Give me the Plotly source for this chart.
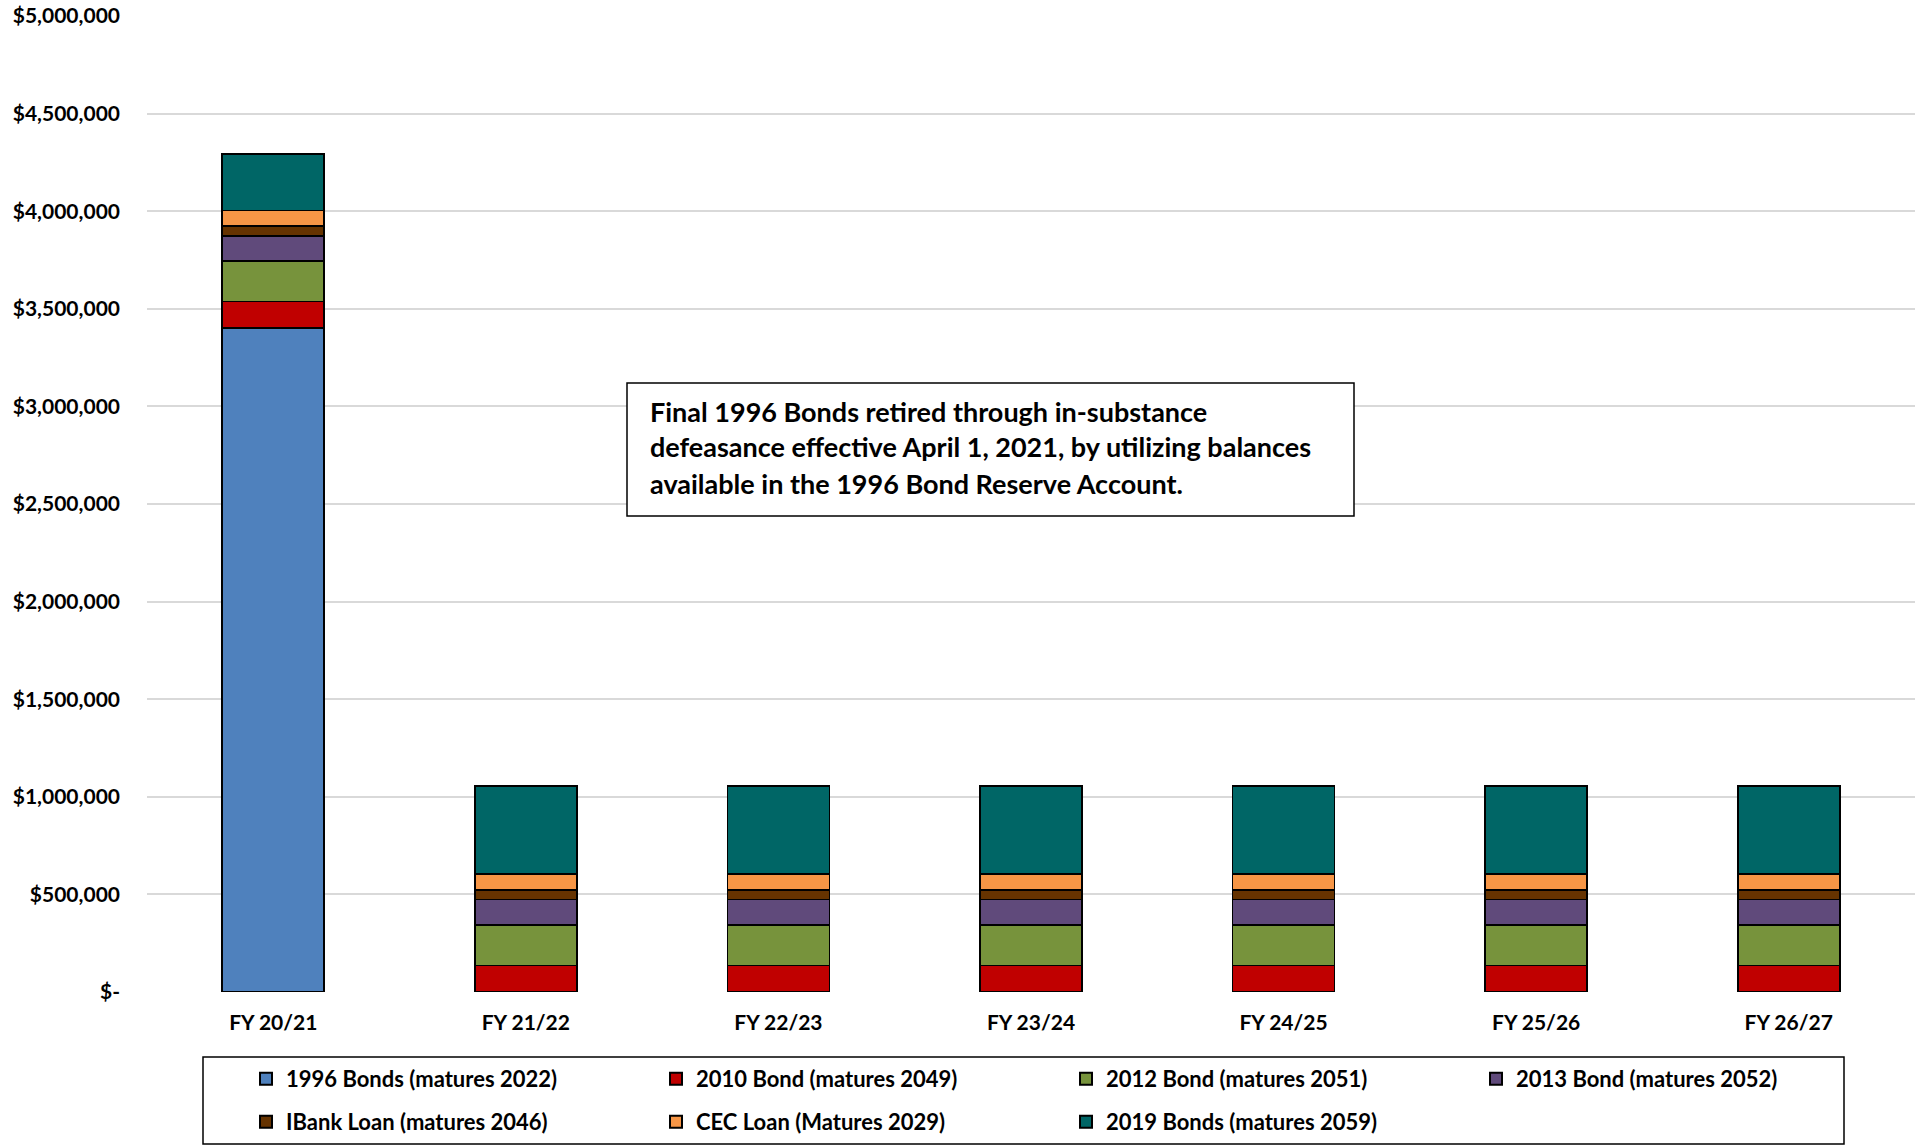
import plotly.graph_objects as go

categories = ["FY 20/21", "FY 21/22", "FY 22/23", "FY 23/24", "FY 24/25", "FY 25/26", "FY 26/27"]

series_names = [
    "1996 Bonds (matures 2022)",
    "2010 Bond (matures 2049)",
    "2012 Bond (matures 2051)",
    "2013 Bond (matures 2052)",
    "IBank Loan (matures 2046)",
    "CEC Loan (Matures 2029)",
    "2019 Bonds (matures 2059)",
]

bonds_1996 = [3400000, 0, 0, 0, 0, 0, 0]
bond_2010 = [137000, 136000, 136000, 136000, 136000, 136000, 136000]
bond_2012 = [206000, 207000, 207000, 207000, 207000, 207000, 207000]
bond_2013 = [131000, 131000, 131000, 131000, 131000, 131000, 131000]
ibank_loan = [50000, 50000, 50000, 50000, 50000, 50000, 50000]
cec_loan = [80000, 79000, 79000, 79000, 79000, 79000, 79000]
bonds_2019 = [288000, 453000, 453000, 453000, 453000, 453000, 453000]

series_values = [bonds_1996, bond_2010, bond_2012, bond_2013, ibank_loan, cec_loan, bonds_2019]
colors = ["#4F81BD", "#C00000", "#77933C", "#604A7B", "#663300", "#F79646", "#006666"]
legend_rows = ["legend", "legend", "legend", "legend", "legend2", "legend2", "legend2"]

y_tickvals = [0, 500000, 1000000, 1500000, 2000000, 2500000, 3000000, 3500000, 4000000, 4500000, 5000000]
y_ticktext = ["$-", "$500,000", "$1,000,000", "$1,500,000", "$2,000,000", "$2,500,000",
              "$3,000,000", "$3,500,000", "$4,000,000", "$4,500,000", "$5,000,000"]

note_lines = [
    "Final 1996 Bonds retired through in-substance",
    "defeasance effective April 1, 2021, by utilizing balances",
    "available in the 1996 Bond Reserve Account.",
]

FONT = "Lato"

fig = go.Figure()
for name, vals, col, lg in zip(series_names, series_values, colors, legend_rows):
    fig.add_trace(go.Bar(
        x=categories, y=vals, name=name, legend=lg,
        marker=dict(color=col, line=dict(color="#000000", width=1.8)),
    ))

W, H = 1921, 1146
ml, mr, mt, mb = 147, 6, 16, 154
pw, ph = W - ml - mr, H - mt - mb
base = H - mb

legend_common = dict(
    orientation="h",
    xanchor="left", yanchor="middle",
    entrywidth=365, entrywidthmode="pixels",
    font=dict(family=FONT, size=22, color="#000000", weight="bold"),
    bgcolor="rgba(0,0,0,0)",
    traceorder="normal",
    itemsizing="constant",
)

fig.update_layout(
    width=W, height=H,
    margin=dict(l=ml, r=mr, t=mt, b=mb, pad=0, autoexpand=False),
    barmode="stack",
    bargap=0.596,
    plot_bgcolor="white",
    paper_bgcolor="white",
    font=dict(family=FONT, color="#000000", size=21),
    showlegend=True,
    legend=dict(x=(246 - ml) / pw, y=(base - 1079) / ph, **legend_common),
    legend2=dict(x=(246 - ml) / pw, y=(base - 1122) / ph, **legend_common),
)
fig.update_xaxes(
    showgrid=False, showline=False, zeroline=False,
    ticks="", tickfont=dict(family=FONT, size=21, weight="bold"),
    ticklabelstandoff=16,
)
fig.update_yaxes(
    range=[0, 5000000],
    tickvals=y_tickvals, ticktext=y_ticktext,
    showgrid=True, gridcolor="#D9D9D9", gridwidth=1.5,
    zeroline=False, showline=False, ticks="",
    tickfont=dict(family=FONT, size=21, weight="bold"),
    ticklabelstandoff=26,
)

# legend frame
fig.add_shape(type="rect", xref="paper", yref="paper",
              x0=(203 - ml) / pw, x1=(1844 - ml) / pw,
              y0=(base - 1144) / ph, y1=(base - 1057) / ph,
              line=dict(color="#000000", width=1.5), fillcolor="rgba(0,0,0,0)")

# annotation box
fig.add_shape(type="rect", xref="paper", yref="paper",
              x0=(627 - ml) / pw, x1=(1354 - ml) / pw,
              y0=(base - 516) / ph, y1=(base - 383) / ph,
              line=dict(color="#000000", width=1.5), fillcolor="white")
for line, ypx in zip(note_lines, [412, 447, 483]):
    fig.add_annotation(
        text=line, xref="paper", yref="paper",
        x=(648 - ml) / pw, y=(base - ypx) / ph,
        xanchor="left", yanchor="middle", showarrow=False,
        font=dict(family=FONT, size=27, color="#000000", weight="bold"),
    )

fig.write_html("out.html")
